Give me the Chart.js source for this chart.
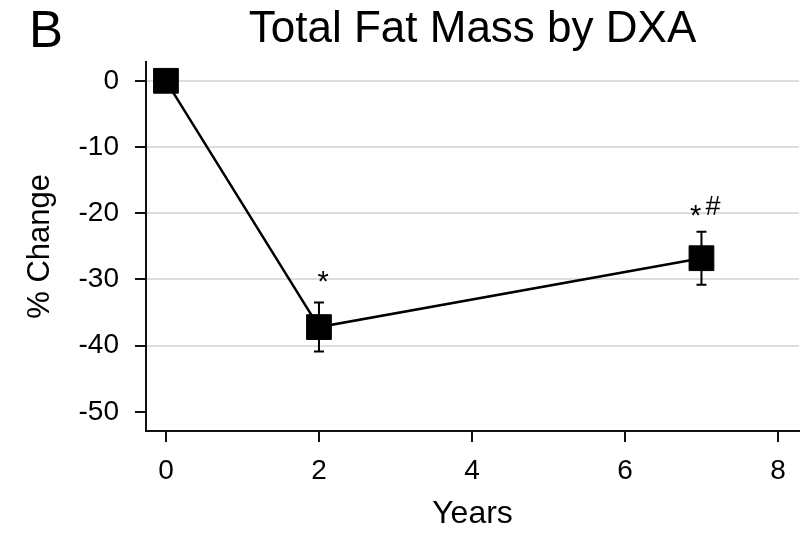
<!DOCTYPE html>
<html>
<head>
<meta charset="utf-8">
<title>Total Fat Mass by DXA</title>
<script src="https://cdn.jsdelivr.net/npm/chart.js@4/dist/chart.umd.min.js"></script>
<style>
  html, body { margin: 0; padding: 0; background: #fff; }
  #wrap { width: 812px; height: 533px; }
</style>
</head>
<body>
<div id="wrap"><canvas id="chart" width="812" height="533"></canvas></div>
<script>
// Follow-up years and mean percent change in total fat mass (DXA)
const years = [0, 2, 7];
const pctChange = [0, -37.2, -26.8];
const errBar = [0, 3.7, 4.0];
// significance symbols shown above each time point
const sigMarks = [[], ['*'], ['*', '#']];
// axis tick values
const xTicks = [0, 2, 4, 6, 8];
const yTicks = [0, -10, -20, -30, -40, -50];

const FONT = "'Liberation Sans', Arial, sans-serif";

// placement of symbols relative to the top of each error bar (px)
const markOffsets = [
  [],
  [{ dx: 4, dy: -26 }],
  [{ dx: -6, dy: -21 }, { dx: 11.5, dy: -26 }]
];

const extras = {
  id: 'extras',
  beforeDatasetsDraw(chart) {
    const { ctx, scales: { x, y } } = chart;
    ctx.save();
    ctx.strokeStyle = '#000';
    ctx.lineWidth = 2;
    years.forEach((yr, i) => {
      if (!errBar[i]) return;
      const px = x.getPixelForValue(yr);
      const top = y.getPixelForValue(pctChange[i] + errBar[i]);
      const bot = y.getPixelForValue(pctChange[i] - errBar[i]);
      const cap = 5;
      ctx.beginPath();
      ctx.moveTo(px, top); ctx.lineTo(px, bot);
      ctx.moveTo(px - cap, top); ctx.lineTo(px + cap, top);
      ctx.moveTo(px - cap, bot); ctx.lineTo(px + cap, bot);
      ctx.stroke();
    });
    ctx.restore();
  },
  afterDatasetsDraw(chart) {
    const { ctx, scales: { x, y } } = chart;
    ctx.save();
    ctx.fillStyle = '#000';
    ctx.textAlign = 'left';
    ctx.textBaseline = 'alphabetic';
    years.forEach((yr, i) => {
      const px = x.getPixelForValue(yr);
      const top = y.getPixelForValue(pctChange[i] + errBar[i]);
      sigMarks[i].forEach((sym, j) => {
        const off = markOffsets[i][j];
        ctx.font = (sym === '*' ? '29px ' : '27px ') + FONT;
        const m = ctx.measureText(sym);
        const w = m.actualBoundingBoxRight + m.actualBoundingBoxLeft;
        const h = m.actualBoundingBoxAscent + m.actualBoundingBoxDescent;
        const cx = px + off.dx, cy = top + off.dy;
        ctx.fillText(sym, cx - w / 2 + m.actualBoundingBoxLeft,
                     cy + h / 2 - m.actualBoundingBoxDescent);
      });
    });
    // panel letter
    ctx.font = '51px ' + FONT;
    ctx.fillText('B', 29, 47);
    ctx.restore();
  }
};

new Chart(document.getElementById('chart'), {
  type: 'line',
  data: {
    datasets: [{
      data: years.map((yr, i) => ({ x: yr, y: pctChange[i] })),
      borderColor: '#000',
      borderWidth: 2.5,
      tension: 0,
      pointStyle: 'rect',
      pointRadius: 17.5,
      pointBackgroundColor: '#000',
      pointBorderColor: '#000',
      pointBorderWidth: 1
    }]
  },
  options: {
    responsive: false,
    animation: false,
    events: [],
    layout: { autoPadding: false, padding: { left: 0, right: 13, top: 0, bottom: 0 } },
    plugins: {
      legend: { display: false },
      tooltip: { enabled: false },
      title: {
        display: true,
        text: 'Total Fat Mass by DXA',
        fullSize: false,
        color: '#000',
        font: { family: FONT, size: 44, weight: 'normal' },
        padding: { top: 3, bottom: 6 }
      }
    },
    scales: {
      x: {
        type: 'linear',
        min: -0.261,
        max: 8.275,
        afterBuildTicks: s => { s.ticks = xTicks.map(v => ({ value: v })); },
        afterFit: s => { s.height = 102; },
        ticks: {
          color: '#000',
          padding: 12,
          font: { family: FONT, size: 28 },
          callback: v => String(v)
        },
        grid: {
          drawOnChartArea: false,
          tickLength: 11,
          tickColor: '#111',
          tickWidth: 2,
          lineWidth: 2
        },
        border: { display: true, color: '#111', width: 2 },
        title: {
          display: true,
          text: 'Years',
          color: '#000',
          font: { family: FONT, size: 32 },
          padding: { top: 0, bottom: 0 }
        }
      },
      y: {
        type: 'linear',
        min: -52.9,
        max: 2.87,
        afterBuildTicks: s => { s.ticks = yTicks.map(v => ({ value: v })); },
        afterFit: s => { s.width = 146; },
        ticks: {
          color: '#000',
          padding: 16,
          font: { family: FONT, size: 28 },
          callback: v => String(v)
        },
        grid: {
          drawOnChartArea: true,
          color: c => (c.tick && c.tick.value === -50) ? 'rgba(0,0,0,0)' : '#dddddd',
          lineWidth: 2,
          tickLength: 11,
          tickColor: '#111',
          tickWidth: 2
        },
        border: { display: true, color: '#111', width: 2 },
        title: {
          display: true,
          text: '% Change',
          color: '#000',
          font: { family: FONT, size: 31 },
          padding: { top: 22, bottom: 0 }
        }
      }
    }
  },
  plugins: [extras]
});
</script>
</body>
</html>
